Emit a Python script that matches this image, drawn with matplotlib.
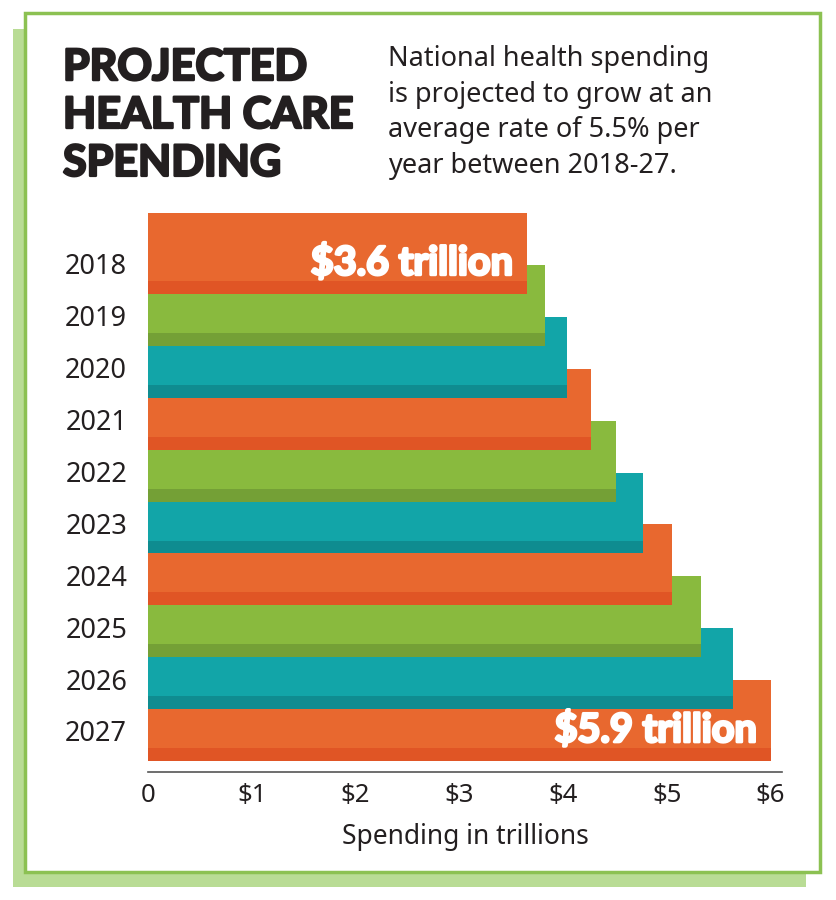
import matplotlib
matplotlib.use("Agg")
import matplotlib.pyplot as plt
import matplotlib.patheffects as pe
from matplotlib.patches import Rectangle

years = ["2018", "2019", "2020", "2021", "2022", "2023", "2024", "2025", "2026", "2027"]
spending = [3.65, 3.83, 4.04, 4.27, 4.51, 4.77, 5.05, 5.33, 5.64, 6.00]
bar_labels = {0: "$3.6 trillion", 9: "$5.9 trillion"}
xticks = [0, 1, 2, 3, 4, 5, 6]
xtick_labels = ["0", "$1", "$2", "$3", "$4", "$5", "$6"]

light = ["#e8682f", "#89ba3e", "#12a5a8"]
dark = ["#e05525", "#74a036", "#0f8c90"]
txt = "#231f20"

W, H = 837, 900
fig = plt.figure(figsize=(W / 100, H / 100), dpi=100, facecolor="white")


def px(x0, y0, x1, y1):
    # pixel box (top-left origin) -> figure fraction rect
    return (x0 / W, 1 - y1 / H), (x1 - x0) / W, (y1 - y0) / H


# shadow box + framed card
xy, w, h = px(13, 29, 806, 887)
fig.patches.append(Rectangle(xy, w, h, transform=fig.transFigure, fc="#b9dc95", ec="none", zorder=0))
xy, w, h = px(25, 13, 820, 872)
fig.patches.append(Rectangle(xy, w, h, transform=fig.transFigure, fc="white", ec="#8cc152", lw=2.5, zorder=1))

bar_h = 1.56
strip = 0.25
ax = fig.add_axes([148 / W, 1 - 772 / H, (782 - 148) / W, (772 - 213) / H])
ax.set_facecolor("none")
ax.set_zorder(2)

for i, v in enumerate(spending):
    c = i % 3
    ax.barh(i, v, height=bar_h, align="edge", color=light[c], zorder=100 - 2 * i)
    ax.barh(i + bar_h - strip, v, height=strip, align="edge", color=dark[c], zorder=100 - 2 * i + 0.5)

heavy = [pe.withStroke(linewidth=2.0, foreground="white")]
for i, lab in bar_labels.items():
    ax.text(spending[i] - 0.13, i + 0.96, lab, ha="right", va="center", color="white",
            fontsize=28.5, fontweight="bold", family=["Lato", "DejaVu Sans"], zorder=200,
            path_effects=heavy)

ax.set_xlim(0, 6.11)
ax.set_ylim(len(years) - 1 + bar_h + 0.21, 0)
ax.set_yticks([i + 0.98 for i in range(len(years))])
ax.set_yticklabels(years)
ax.set_xticks(xticks)
ax.set_xticklabels(xtick_labels)
ax.tick_params(axis="y", length=0, pad=15, labelsize=19.5, labelcolor=txt)
ax.tick_params(axis="x", length=0, pad=8, labelsize=18.5, labelcolor=txt)
for s in ["top", "right", "left"]:
    ax.spines[s].set_visible(False)
ax.spines["bottom"].set_color("#555555")
ax.spines["bottom"].set_linewidth(1.2)
ax.set_xlabel("Spending in trillions", fontsize=19, color=txt, labelpad=11)
for t in ax.get_xticklabels() + ax.get_yticklabels() + [ax.xaxis.label]:
    t.set_family(["Noto Sans", "DejaVu Sans"])

fig.text(63 / W, 1 - 47 / H, "PROJECTED\nHEALTH CARE\nSPENDING", ha="left", va="top",
         fontsize=31, fontweight="bold", family=["Lato", "DejaVu Sans"], color=txt,
         linespacing=1.24, path_effects=[pe.withStroke(linewidth=1.8, foreground=txt)])
fig.text(388 / W, 1 - 45 / H, "National health spending\nis projected to grow at an\naverage rate of 5.5% per\nyear between 2018-27.",
         ha="left", va="top", fontsize=19.5, family=["Noto Sans", "DejaVu Sans"], color=txt,
         linespacing=1.36)

fig.savefig("out.png", dpi=100, facecolor="white")
